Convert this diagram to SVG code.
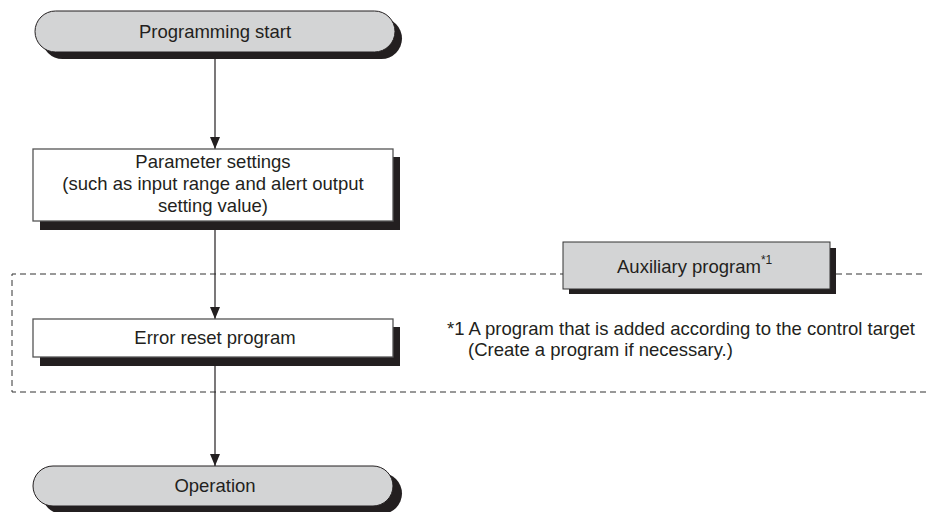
<svg xmlns="http://www.w3.org/2000/svg" width="926" height="512" viewBox="0 0 926 512">
<defs>
<style>
text{font-family:"Liberation Sans",Arial,sans-serif;font-size:18.5px;fill:#231f20}
.mid{text-anchor:middle}
.shadow{fill:#231f20}
.pill{fill:#d3d4d5;stroke:#231f20;stroke-width:1}
.box{fill:#ffffff;stroke:#555;stroke-width:1.3}
.gbox{fill:#d3d4d5;stroke:#333;stroke-width:1}
.edge{stroke:#231f20;stroke-width:1.2;fill:none}
.dash{stroke:#333;stroke-width:1;fill:none;stroke-dasharray:6 4}
</style>
<marker id="arr" viewBox="0 0 12 10" refX="12" refY="5" markerWidth="12" markerHeight="10" markerUnits="userSpaceOnUse" orient="auto">
<path d="M0,0 L12,5 L0,10 Z" fill="#231f20"/>
</marker>
</defs>
<rect width="926" height="512" fill="#ffffff"/>
<g id="group-aux">
<path class="dash" d="M566,274 H12 V392 H926"/>
<path class="dash" d="M836,274 H926"/>
</g>
<g id="connectors">
<line class="edge" x1="215" y1="59" x2="215" y2="149" marker-end="url(#arr)"/>
<line class="edge" x1="215" y1="230" x2="215" y2="319" marker-end="url(#arr)"/>
<line class="edge" x1="215" y1="366" x2="215" y2="466" marker-end="url(#arr)"/>
</g>
<g id="start">
<rect class="shadow" x="42" y="18" width="360" height="41" rx="20.5"/>
<rect class="pill" x="35" y="11" width="360" height="41" rx="20.5"/>
<text class="mid" x="215" y="38">Programming start</text>
</g>
<g id="params">
<rect class="shadow" x="40" y="157" width="360" height="73"/>
<rect class="box" x="33" y="149" width="360" height="72"/>
<text class="mid" x="213" y="168">Parameter settings</text>
<text class="mid" x="213" y="190">(such as input range and alert output</text>
<text class="mid" x="213" y="212">setting value)</text>
</g>
<g id="auxiliary">
<rect class="shadow" x="569" y="248" width="267" height="46"/>
<rect class="gbox" x="563" y="242" width="267" height="47"/>
<text x="617" y="273" font-size="19">Auxiliary program<tspan font-size="12" dy="-9">*1</tspan></text>
</g>
<g id="error-reset">
<rect class="shadow" x="40" y="327" width="360" height="39"/>
<rect class="box" x="33" y="319" width="360" height="38"/>
<text class="mid" x="215" y="344">Error reset program</text>
</g>
<g id="operation">
<rect class="shadow" x="42" y="473" width="360" height="41" rx="20.5"/>
<rect class="pill" x="33" y="466" width="360" height="40" rx="20"/>
<text class="mid" x="215" y="492">Operation</text>
</g>
<g id="footnote">
<text x="447" y="335" font-size="18.7">*1 A program that is added according to the control target</text>
<text x="468" y="356" font-size="18.7">(Create a program if necessary.)</text>
</g>
</svg>
